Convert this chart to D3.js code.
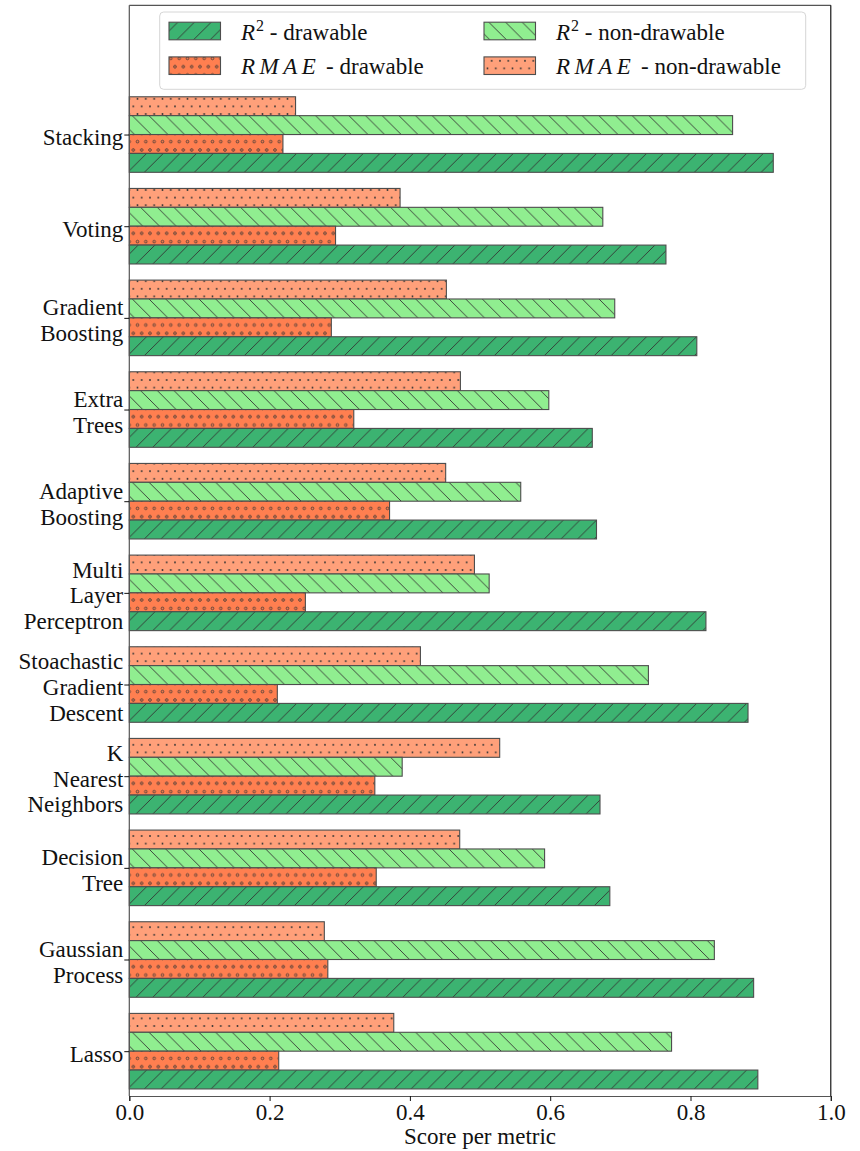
<!DOCTYPE html>
<html>
<head>
<meta charset="utf-8">
<script src="https://cdn.jsdelivr.net/npm/d3@7"></script>
<style>
  html, body { margin: 0; padding: 0; background: #fff; }
  svg { display: block; }
  svg text { font-family: "Liberation Serif", "Times New Roman", Times, Tinos, "DejaVu Serif", "Noto Serif", serif; fill: #111; }
</style>
</head>
<body>
<svg id="chart" width="860" height="1151"></svg>
<script>
// Models, listed top to bottom; "\n" marks a line break in the axis label
const categories = [
  "Stacking", "Voting", "Gradient\nBoosting", "Extra\nTrees", "Adaptive\nBoosting",
  "Multi\nLayer\nPerceptron", "Stoachastic\nGradient\nDescent", "K\nNearest\nNeighbors",
  "Decision\nTree", "Gaussian\nProcess", "Lasso"
];

// Scores per model (same order as categories)
const rmaeNonDrawable = [0.237, 0.386, 0.452, 0.472, 0.451, 0.492, 0.415, 0.528, 0.471, 0.278, 0.377];
const r2NonDrawable   = [0.860, 0.675, 0.692, 0.598, 0.558, 0.513, 0.740, 0.389, 0.592, 0.834, 0.773];
const rmaeDrawable    = [0.219, 0.294, 0.288, 0.320, 0.371, 0.251, 0.211, 0.350, 0.352, 0.283, 0.213];
const r2Drawable      = [0.918, 0.765, 0.809, 0.660, 0.666, 0.822, 0.882, 0.671, 0.685, 0.890, 0.896];

const xTicks = [0.0, 0.2, 0.4, 0.6, 0.8, 1.0];
const xLabel = "Score per metric";

// Series drawn inside each group, from top to bottom
const series = [
  { key: "rmaeND", values: rmaeNonDrawable, fill: "url(#dotsND)" },
  { key: "r2ND",   values: r2NonDrawable,   fill: "url(#hatchBack)" },
  { key: "rmaeD",  values: rmaeDrawable,    fill: "url(#circlesD)" },
  { key: "r2D",    values: r2Drawable,      fill: "url(#hatchFwd)" }
];

const svg = d3.select("#chart");
const plot = { left: 129.3, right: 830.8, top: 5.3, bottom: 1096 };
const n = categories.length;

const x = d3.scaleLinear().domain([0, 1]).range([plot.left, plot.right]);
// group position: last category sits at 0, first at n-1
const y = d3.scaleLinear().domain([-0.489, 11.41]).range([plot.bottom, plot.top]);
const barH = 0.206; // bar thickness in category units
const barPx = Math.abs(y(barH) - y(0));

// ---- hatch patterns ----
const defs = svg.append("defs");
const P = 16.667;
const hatchColor = "#333";

function linePattern(id, bg, d) {
  const p = defs.append("pattern").attr("id", id)
    .attr("patternUnits", "userSpaceOnUse").attr("width", P).attr("height", P);
  p.append("rect").attr("width", P).attr("height", P).attr("fill", bg);
  p.append("path").attr("d", d).attr("stroke", hatchColor).attr("stroke-width", 0.9).attr("fill", "none");
}
linePattern("hatchFwd", "#3CB371",
  `M0,${P} L${P},0 M-2,2 L2,-2 M${P - 2},${P + 2} L${P + 2},${P - 2}`);
linePattern("hatchBack", "#90EE90",
  `M0,0 L${P},${P} M-2,${P - 2} L2,${P + 2} M${P - 2},-2 L${P + 2},2`);

function shapePattern(id, bg, w, h, draw) {
  const p = defs.append("pattern").attr("id", id)
    .attr("patternUnits", "userSpaceOnUse").attr("width", w).attr("height", h);
  p.append("rect").attr("width", w).attr("height", h).attr("fill", bg);
  const pts = [[0, 0], [w, 0], [0, h], [w, h], [w / 2, h / 2]];
  pts.forEach(pt => draw(p, pt));
}
shapePattern("circlesD", "#FF7F50", 8.333, 16.667, (p, [cx, cy]) =>
  p.append("circle").attr("cx", cx).attr("cy", cy).attr("r", 1.3)
    .attr("fill", "none").attr("stroke", hatchColor).attr("stroke-width", 0.8));
shapePattern("dotsND", "#FFA07A", 8.333, 15.2, (p, [cx, cy]) =>
  p.append("circle").attr("cx", cx).attr("cy", cy).attr("r", 0.95).attr("fill", hatchColor));

// ---- bars ----
const barsG = svg.append("g");
categories.forEach((cat, i) => {
  const pos = n - 1 - i;
  series.forEach((s, j) => {
    const offset = (1.5 - j) * barH; // top bar has the largest offset
    const yTop = y(pos + offset + barH / 2);
    barsG.append("rect")
      .attr("x", x(0))
      .attr("y", yTop)
      .attr("width", x(s.values[i]) - x(0))
      .attr("height", barPx)
      .attr("fill", s.fill)
      .attr("stroke", "#4d4d4d")
      .attr("stroke-width", 1.1);
  });
});

// ---- frame ----
svg.append("line").attr("x1", plot.left).attr("x2", plot.left).attr("y1", plot.top).attr("y2", plot.bottom)
  .attr("stroke", "#555").attr("stroke-width", 1.2);
svg.append("line").attr("x1", plot.left).attr("x2", plot.right).attr("y1", plot.top).attr("y2", plot.top)
  .attr("stroke", "#555").attr("stroke-width", 1.2);
svg.append("line").attr("x1", plot.right).attr("x2", plot.right).attr("y1", plot.top).attr("y2", plot.bottom)
  .attr("stroke", "#000").attr("stroke-width", 1.1);

// ---- x axis ----
const xAxis = svg.append("g").attr("transform", `translate(0,${plot.bottom})`)
  .call(d3.axisBottom(x).tickValues(xTicks).tickFormat(d3.format(".1f")).tickSize(5).tickPadding(2.2));
xAxis.attr("font-family", null);
xAxis.select(".domain").attr("stroke", "#555").attr("stroke-width", 1.2);
xAxis.selectAll(".tick line").attr("stroke", "#111").attr("stroke-width", 1);
xAxis.selectAll(".tick text").attr("font-size", 23).attr("fill", "#111");

svg.append("text")
  .attr("x", (plot.left + plot.right) / 2).attr("y", 1144)
  .attr("text-anchor", "middle").attr("font-size", 23)
  .text(xLabel);

// ---- y axis ----
const yAxis = svg.append("g").attr("transform", `translate(${plot.left},0)`)
  .call(d3.axisLeft(y).tickValues(d3.range(n)).tickFormat("").tickSize(5));
yAxis.select(".domain").remove();
yAxis.selectAll(".tick line").attr("stroke", "#111").attr("stroke-width", 1);

const lineH = 25.8;
categories.forEach((cat, i) => {
  const lines = cat.split("\n");
  const cy = y(n - 1 - i);
  const t = svg.append("text").attr("text-anchor", "end").attr("font-size", 23);
  lines.forEach((ln, k) => {
    t.append("tspan").attr("x", plot.left - 6)
      .attr("y", cy + (k - (lines.length - 1) / 2) * lineH + 10.5)
      .text(ln);
  });
});

// ---- legend ----
const legend = svg.append("g");
legend.append("rect")
  .attr("x", 159.7).attr("y", 12).attr("width", 646).attr("height", 77.3)
  .attr("rx", 4).attr("fill", "#fff").attr("fill-opacity", 0.85)
  .attr("stroke", "#d6d6d6").attr("stroke-width", 1);

const legendItems = [
  { fill: "url(#hatchFwd)",  col: 0, row: 0, sym: "R", sup: "2", rest: " - drawable" },
  { fill: "url(#circlesD)",  col: 0, row: 1, sym: "RMAE", sup: null, rest: " - drawable" },
  { fill: "url(#hatchBack)", col: 1, row: 0, sym: "R", sup: "2", rest: " - non-drawable" },
  { fill: "url(#dotsND)",    col: 1, row: 1, sym: "RMAE", sup: null, rest: " - non-drawable" }
];
const colX = [169, 484];
const rowY = [31, 65.7];
legendItems.forEach(it => {
  const px = colX[it.col], py = rowY[it.row];
  legend.append("rect")
    .attr("x", px).attr("y", py - 8.8).attr("width", 51.5).attr("height", 17.6)
    .attr("fill", it.fill).attr("stroke", "#4d4d4d").attr("stroke-width", 1.1);
  const t = legend.append("text").attr("x", px + 72).attr("y", py + 8.5).attr("font-size", 23);
  const s = t.append("tspan").attr("font-style", "italic").text(it.sym);
  if (it.sup) {
    t.append("tspan").attr("font-size", 16).attr("dy", -9).attr("dx", 1).text(it.sup);
    t.append("tspan").attr("dy", 9).text(it.rest);
  } else {
    s.attr("letter-spacing", 4.5);
    t.append("tspan").text(it.rest);
  }
});
</script>
</body>
</html>
